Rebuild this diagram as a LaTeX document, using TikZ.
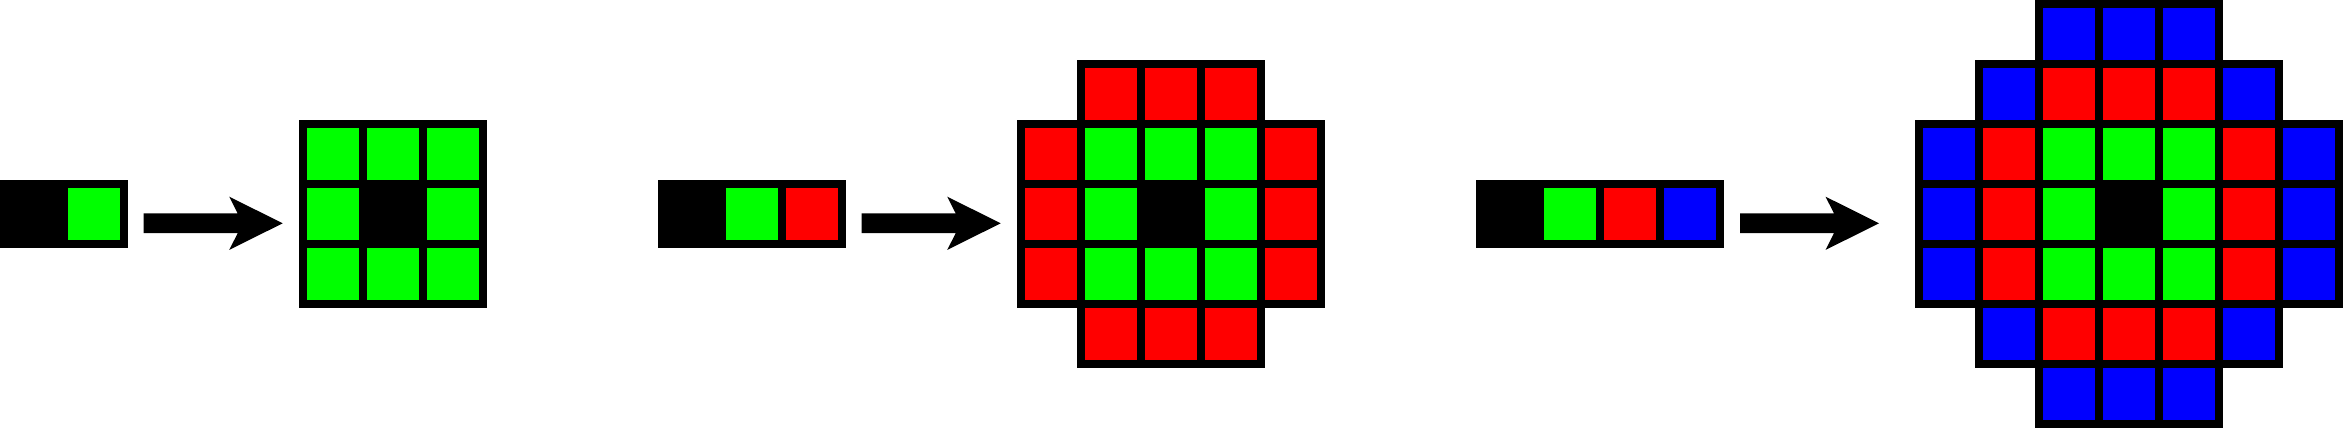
\documentclass[tikz,border=0pt]{standalone}
\usepackage{tikz}
\definecolor{cgreen}{RGB}{0,255,0}
\definecolor{cred}{RGB}{255,0,0}
\definecolor{cblue}{RGB}{0,0,255}
\tikzset{
  cell/.style={rectangle, draw=black, line width=7.6pt, minimum size=60pt, inner sep=0pt, outer sep=0pt},
  bigarrow/.pic={\fill[black] (0,-9.9) -- (94,-9.9) -- (85.5,-26.65) -- (139,0) -- (85.5,26.65) -- (94,9.9) -- (0,9.9) -- cycle;}
}
\newcommand\ringgrid[4]{%
  \foreach \i in {-#4,...,#4}{%
    \foreach \j in {-#4,...,#4}{%
      \pgfmathtruncatemacro\dd{max(abs(\i),abs(\j),abs(\i)+abs(\j)-1)}%
      \ifnum\dd>#4\relax\else
        \edef\cc{\ifcase\dd black\or cgreen\or cred\or cblue\fi}%
        \node[cell, fill=\cc] (#1-\i-\j) at ({#2+60*\i},{#3+60*\j}) {};%
      \fi
    }%
  }%
}
\begin{document}
\begin{tikzpicture}[x=1pt,y=-1pt]
\useasboundingbox (0,0) rectangle (2348,428);
% block 1
\node[cell, fill=black] (b1-0) at (34,214) {};
\node[cell, fill=cgreen] (b1-1) at (94,214) {};
\coordinate (a1) at (143.7,223.3);
\pic at (a1) {bigarrow};
\ringgrid{g1}{393}{214}{1}
% block 2
\node[cell, fill=black] (b2-0) at (692,214) {};
\node[cell, fill=cgreen] (b2-1) at (752,214) {};
\node[cell, fill=cred] (b2-2) at (812,214) {};
\coordinate (a2) at (861.7,223.3);
\pic at (a2) {bigarrow};
\ringgrid{g2}{1171}{214}{2}
% block 3
\node[cell, fill=black] (b3-0) at (1510,214) {};
\node[cell, fill=cgreen] (b3-1) at (1570,214) {};
\node[cell, fill=cred] (b3-2) at (1630,214) {};
\node[cell, fill=cblue] (b3-3) at (1690,214) {};
\coordinate (a3) at (1740,223.3);
\pic at (a3) {bigarrow};
\ringgrid{g3}{2129}{214}{3}
\end{tikzpicture}
\end{document}
